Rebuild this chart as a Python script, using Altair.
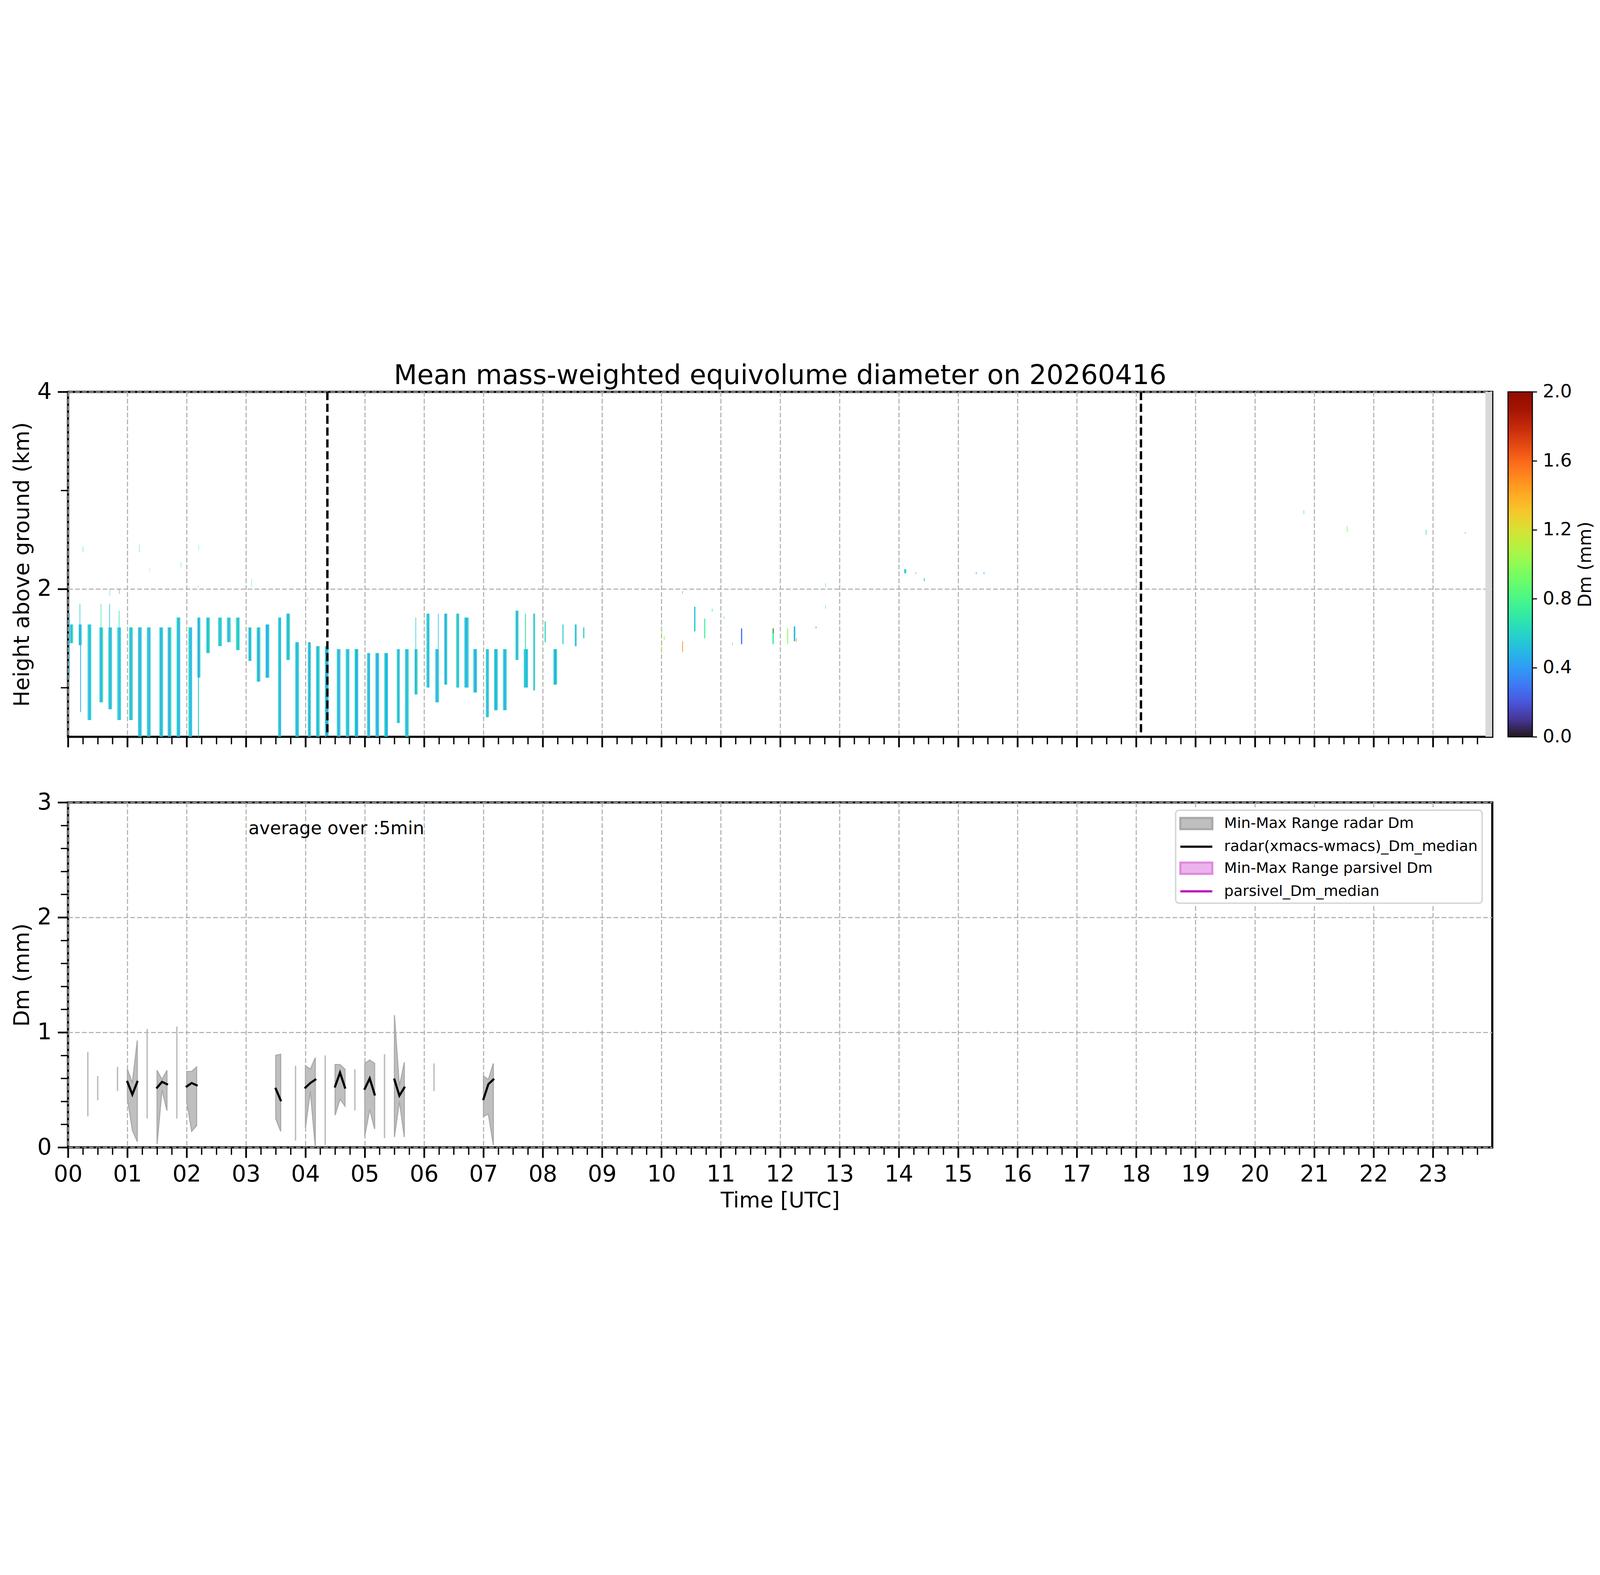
import altair as alt
import pandas as pd

FONT = "DejaVu Sans"

# ---------------- top panel: Dm time-height curtain ----------------
stripe_start = [0.03, 0.18, 0.33, 0.53, 0.68, 0.83, 1.03, 1.18, 1.33, 1.54,
                1.68, 1.83, 2.03, 2.18, 2.33, 2.53, 2.68, 2.83, 3.04, 3.18,
                3.33, 3.54, 3.68, 3.83, 4.04, 4.18, 4.33, 4.53, 4.68, 4.83,
                5.04, 5.18, 5.33, 5.54, 5.68, 5.84, 6.04, 6.19, 6.34, 6.54,
                6.68, 6.83, 7.04, 7.18, 7.33, 7.54, 7.68, 7.84, 8.03, 8.18,
                8.33, 8.54, 8.68]
stripe_end = [0.085, 0.23, 0.39, 0.59, 0.74, 0.89, 1.09, 1.24, 1.39, 1.60,
              1.74, 1.89, 2.09, 2.23, 2.39, 2.59, 2.74, 2.89, 3.09, 3.24,
              3.39, 3.59, 3.74, 3.89, 4.09, 4.24, 4.39, 4.59, 4.74, 4.89,
              5.09, 5.24, 5.39, 5.59, 5.74, 5.89, 6.09, 6.25, 6.39, 6.59,
              6.75, 6.89, 7.09, 7.24, 7.39, 7.59, 7.75, 7.87, 8.05, 8.24,
              8.35, 8.57, 8.70]
stripe_top = [1.64, 1.64, 1.64, 1.61, 1.61, 1.61, 1.61, 1.61, 1.61, 1.61,
              1.61, 1.71, 1.61, 1.71, 1.71, 1.71, 1.71, 1.71, 1.61, 1.61,
              1.64, 1.71, 1.75, 1.46, 1.46, 1.42, 1.42, 1.39, 1.39, 1.39,
              1.35, 1.35, 1.35, 1.39, 1.39, 1.39, 1.75, 1.39, 1.75, 1.75,
              1.71, 1.39, 1.39, 1.39, 1.39, 1.78, 1.39, 1.75, 1.67, 1.39,
              1.64, 1.64, 1.61]
stripe_base = [1.45, 1.43, 0.67, 0.85, 0.78, 0.67, 0.67, 0.50, 0.50, 0.50,
               0.50, 0.50, 0.50, 1.10, 1.35, 1.42, 1.46, 1.38, 1.27, 1.06,
               1.10, 0.50, 1.28, 0.50, 0.50, 0.50, 0.50, 0.50, 0.50, 0.50,
               0.50, 0.50, 0.50, 0.64, 0.50, 0.93, 1.00, 0.85, 1.03, 1.00,
               1.00, 0.95, 0.70, 0.77, 0.77, 1.28, 1.00, 0.97, 1.46, 1.03,
               1.44, 1.42, 1.50]
dm_left = [0.62, 0.55, 0.64, 0.58, 0.60, 0.66, 0.62, 0.57, 0.63, 0.60,
           0.58, 0.62, 0.61, 0.55, 0.60, 0.62, 0.58, 0.70, 0.56, 0.60,
           0.52, 0.62, 0.60, 0.58, 0.62, 0.60, 0.56, 0.61, 0.64, 0.60,
           0.58, 0.62, 0.60, 0.66, 0.60, 0.58, 0.62, 0.57, 0.60, 0.70,
           0.55, 0.62, 0.64, 0.60, 0.62, 0.68, 0.60, 0.58, 0.75, 0.62,
           0.60, 0.58, 0.62]
dm_mid = [0.41, 0.36, 0.46, 0.43, 0.40, 0.48, 0.44, 0.41, 0.46, 0.42,
          0.40, 0.44, 0.46, 0.38, 0.41, 0.46, 0.44, 0.48, 0.40, 0.36,
          0.42, 0.46, 0.38, 0.46, 0.44, 0.40, 0.42, 0.38, 0.46, 0.42,
          0.44, 0.40, 0.46, 0.42, 0.44, 0.38, 0.46, 0.40, 0.36, 0.44,
          0.42, 0.40, 0.46, 0.44, 0.42, 0.38, 0.46, 0.42, 0.51, 0.40,
          0.46, 0.41, 0.44]
dm_right = [0.67, 0.59, 0.55, 0.69, 0.59, 0.53, 0.65, 0.57, 0.53, 0.61,
            0.63, 0.55, 0.53, 0.63, 0.69, 0.57, 0.63, 0.57, 0.61, 0.65,
            0.57, 0.53, 0.67, 0.59, 0.55, 0.63, 0.57, 0.61, 0.55, 0.59,
            0.57, 0.55, 0.53, 0.59, 0.63, 0.67, 0.55, 0.61, 0.59, 0.57,
            0.63, 0.57, 0.53, 0.59, 0.57, 0.61, 0.55, 0.67, 0.57, 0.63,
            0.59, 0.57, 0.55]

# thin filaments attached to the main curtain
fil_start = [0.015, 0.195, 0.205, 0.55, 0.695, 0.855, 2.19, 5.855, 6.235, 7.70]
fil_end = [0.025, 0.205, 0.218, 0.56, 0.705, 0.865, 2.205, 5.865, 6.245, 7.715]
fil_top = [1.75, 1.85, 1.43, 1.85, 1.85, 1.78, 1.10, 1.71, 1.75, 1.75]
fil_base = [1.10, 1.64, 0.75, 1.61, 1.61, 1.61, 0.50, 1.39, 1.39, 1.39]
fil_dm = [0.50, 0.55, 0.45, 0.70, 0.50, 0.65, 0.55, 0.60, 0.50, 0.70]

# isolated echoes
echo_start = [0.25, 1.20, 1.37, 1.90, 2.20, 2.19, 3.09, 4.04, 0.70, 0.86,
              10.00, 10.00, 10.04, 10.35, 10.35, 10.55, 10.72, 10.85, 11.05, 11.19,
              11.34, 11.87, 12.12, 12.23, 12.60, 12.76, 12.76, 14.09, 14.28, 14.42,
              15.30, 15.43, 20.82, 21.55, 22.88, 23.54, 11.88, 12.27]
echo_end = [0.256, 1.206, 1.376, 1.906, 2.206, 2.196, 3.096, 4.046, 0.706, 0.866,
            10.01, 10.01, 10.052, 10.36, 10.362, 10.572, 10.738, 10.86, 11.06, 11.20,
            11.36, 11.893, 12.135, 12.255, 12.61, 12.77, 12.77, 14.125, 14.29, 14.435,
            15.31, 15.44, 20.83, 21.56, 22.89, 23.55, 11.89, 12.28]
echo_top = [2.43, 2.45, 2.22, 2.27, 2.45, 2.04, 2.10, 1.91, 2.00, 2.00,
            1.61, 1.42, 1.52, 1.98, 1.47, 1.82, 1.70, 1.80, 1.72, 1.46,
            1.60, 1.60, 1.60, 1.62, 1.62, 2.06, 1.83, 2.20, 2.17, 2.11,
            2.17, 2.17, 2.80, 2.64, 2.60, 2.58, 1.60, 1.50]
echo_base = [2.37, 2.37, 2.18, 2.22, 2.39, 2.01, 2.02, 1.88, 1.93, 1.95,
             1.53, 1.35, 1.48, 1.95, 1.36, 1.57, 1.50, 1.77, 1.70, 1.43,
             1.44, 1.44, 1.44, 1.47, 1.60, 2.02, 1.80, 2.16, 2.15, 2.08,
             2.15, 2.15, 2.76, 2.58, 2.55, 2.56, 1.55, 1.46]
echo_dm = [0.60, 0.65, 0.90, 0.70, 0.90, 0.85, 0.75, 0.70, 0.60, 0.35,
           1.00, 1.10, 1.00, 0.70, 1.50, 0.55, 0.75, 0.70, 0.70, 0.90,
           0.30, 0.75, 1.00, 0.50, 0.40, 0.90, 0.80, 0.60, 0.70, 0.65,
           0.40, 0.40, 0.80, 0.90, 0.60, 0.80, 1.80, 1.45]

missing_start = [23.885]
missing_end = [24.0]
marker_hours = [4.37, 18.08]
cbar_ticks = [0, 0.4, 0.8, 1.2, 1.6, 2.0]

# ---------------- bottom panel: 5-min Dm statistics ----------------
range_group = [1, 1, 1, 2, 2, 2, 3, 3, 3, 4, 4, 5, 5, 5, 6, 6, 6, 7, 7, 7, 8, 8, 8, 9, 9, 9]
range_time = [1.0, 1.0833, 1.1667, 1.5, 1.5833, 1.6667, 2.0, 2.0833, 2.1667,
              3.5, 3.5833, 4.0, 4.0833, 4.1667, 4.5, 4.5833, 4.6667,
              5.0, 5.0833, 5.1667, 5.5, 5.5833, 5.6667, 7.0, 7.0833, 7.1667]
range_min = [0.43, 0.15, 0.05, 0.03, 0.50, 0.32, 0.40, 0.14, 0.19,
             0.25, 0.14, 0.17, 0.49, 0.00, 0.28, 0.42, 0.36,
             0.10, 0.33, 0.16, 0.09, 0.40, 0.09, 0.27, 0.29, 0.02]
range_max = [0.68, 0.56, 0.93, 0.67, 0.59, 0.67, 0.66, 0.66, 0.70,
             0.80, 0.81, 0.71, 0.68, 0.78, 0.72, 0.72, 0.68,
             0.73, 0.76, 0.73, 1.15, 0.53, 0.74, 0.62, 0.59, 0.73]
radar_median = [0.57, 0.46, 0.57, 0.52, 0.57, 0.55, 0.53, 0.56, 0.54,
                0.51, 0.41, 0.52, 0.56, 0.59, 0.53, 0.65, 0.52,
                0.51, 0.60, 0.46, 0.59, 0.45, 0.52, 0.42, 0.55, 0.59]

single_time = [0.3333, 0.5, 0.8333, 1.3333, 1.8333, 3.8333, 4.3333, 4.8333, 5.3333, 6.1667]
single_min = [0.27, 0.41, 0.49, 0.25, 0.25, 0.06, 0.02, 0.32, 0.08, 0.49]
single_max = [0.83, 0.62, 0.70, 1.03, 1.05, 0.71, 0.80, 0.68, 0.81, 0.73]

note_time = [3.04]
note_dm = [2.724]
note_text = ["average over :5min"]

legend_names = ["Min-Max Range radar Dm", "radar(xmacs-wmacs)_Dm_median",
                "Min-Max Range parsivel Dm", "parsivel_Dm_median"]
legend_fill = ["#bfbfbf", "#000000", "#ecb4ec", "#bf00bf"]
legend_stroke = ["#a9a9a9", "#000000", "#e08ae0", "#bf00bf"]
RECT = "M-2,-0.7L2,-0.7L2,0.7L-2,0.7Z"
LINE = "M-2,0L2,0"
legend_shapes = [RECT, LINE, RECT, LINE]

# ---------------- build tables ----------------
rows = []
for i in range(len(stripe_start)):
    t0, t1 = stripe_start[i], stripe_end[i]
    w = (t1 - t0) / 3.0
    for k, dm in enumerate((dm_left[i], dm_mid[i], dm_right[i])):
        rows.append({"t0": t0 + k * w, "t1": t0 + (k + 1) * w,
                     "h0": stripe_base[i], "h1": stripe_top[i], "dm": dm})
stripes = pd.DataFrame(rows)
filaments = pd.DataFrame({"t0": fil_start, "t1": fil_end, "h0": fil_base,
                          "h1": fil_top, "dm": fil_dm})
echoes = pd.DataFrame({"t0": echo_start, "t1": echo_end, "h0": echo_base,
                       "h1": echo_top, "dm": echo_dm})
band_df = pd.DataFrame({"t0": missing_start, "t1": missing_end})
marker_df = pd.DataFrame({"t": marker_hours})
ranges = pd.DataFrame({"g": range_group, "t": range_time, "lo": range_min,
                       "hi": range_max, "med": radar_median})
singles = pd.DataFrame({"t": single_time, "lo": single_min, "hi": single_max})
notes = pd.DataFrame({"t": note_time, "dm": note_dm, "label": note_text})
legend_df = pd.DataFrame({"series": legend_names})

W, H = 6603, 1599
KM0, KM1 = 0.5, 4.0
DM0, DM1 = 0.0, 2.0
x_scale = alt.Scale(domain=[0, 24], nice=False, zero=False)
y_top_scale = alt.Scale(domain=[KM0, KM1], nice=False, zero=False)
y_bot_scale = alt.Scale(domain=[0, 3], nice=False, zero=False)
# tiny margin keeps the end labels of the colour bar centred on their positions
dm_scale = alt.Scale(scheme="turbo", domain=[DM0 - 0.0005, DM1 + 0.0005], nice=False, zero=False)
# colour-bar tick marks: the bar spans the same height as the panel
cbar_tick_pos = [KM0 + (d - DM0) * (KM1 - KM0) / (DM1 - DM0) for d in cbar_ticks]

major_hours = list(range(24))
minor_hours = [i / 4 for i in range(97) if i % 4]
minor_dm = [i / 5 for i in range(1, 15) if i % 5]

TICK_MAJ = dict(tickSize=48, tickWidth=8, tickColor="black")
TICK_MIN = dict(tickSize=34, tickWidth=6, tickColor="black", labels=False,
                grid=False, domain=False, title=None)


def x_major(labels):
    kw = dict(values=major_hours, grid=True, domain=False, labelFlush=False,
              labelOverlap=False, **TICK_MAJ)
    if labels:
        kw.update(labels=True, labelFontSize=105, labelPadding=26,
                  labelExpr="datum.value < 10 ? '0' + datum.value : '' + datum.value",
                  title="Time [UTC]", titleFontSize=100, titlePadding=20)
    else:
        kw.update(labels=False, title=None)
    return alt.Axis(**kw)


def y_major(values, title):
    return alt.Axis(values=values, format="d", grid=True, domain=False,
                    labelFontSize=105, labelPadding=28, labelOverlap=False,
                    title=title, titleFontSize=100, titlePadding=2,
                    titleBaseline="alphabetic",
                    minExtent=180, maxExtent=180, **TICK_MAJ)


cbar_legend = alt.Legend(
    title=None, orient="none", legendX=6676, legendY=0, padding=0,
    direction="vertical", gradientLength=H, gradientThickness=113,
    gradientStrokeColor="black", gradientStrokeWidth=5,
    values=cbar_ticks, format=".1f",
    labelFontSize=85, labelFont=FONT, labelOffset=48, labelOverlap=False,
    labelBaseline="middle",
)

top_stripes = alt.Chart(stripes).mark_rect(clip=True).encode(
    x=alt.X("t0:Q", scale=x_scale, axis=x_major(False)),
    x2="t1:Q",
    y=alt.Y("h0:Q", scale=y_top_scale, axis=y_major([2, 4], "Height above ground (km)")),
    y2="h1:Q",
    color=alt.Color("dm:Q", scale=dm_scale, legend=cbar_legend),
)
top_filaments = alt.Chart(filaments).mark_rect(clip=True).encode(
    x=alt.X("t0:Q", scale=x_scale, axis=alt.Axis(values=minor_hours, orient="bottom", **TICK_MIN)),
    x2="t1:Q",
    y=alt.Y("h0:Q", scale=y_top_scale, axis=alt.Axis(values=[1, 3], orient="left", **TICK_MIN)),
    y2="h1:Q",
    color=alt.Color("dm:Q", scale=dm_scale, legend=cbar_legend),
)
top_echoes = alt.Chart(echoes).mark_rect(clip=True).encode(
    x=alt.X("t0:Q", scale=x_scale, axis=None),
    x2="t1:Q",
    y=alt.Y("h0:Q", scale=y_top_scale,
            axis=alt.Axis(orient="right", offset=186, values=cbar_tick_pos,
                          labels=False, ticks=True, tickSize=21, tickWidth=5,
                          tickColor="black", grid=False, domain=False,
                          title="Dm (mm)", titleFontSize=83, titleAngle=270,
                          titleBaseline="top", titleAlign="center", titlePadding=206,
                          minExtent=0, maxExtent=0)),
    y2="h1:Q",
    color=alt.Color("dm:Q", scale=dm_scale, legend=cbar_legend),
)
band = alt.Chart(band_df).mark_rect(color="#d9d9d9", clip=True).encode(
    x=alt.X("t0:Q", scale=x_scale, axis=None), x2="t1:Q")
markers = alt.Chart(marker_df).mark_rule(color="black", strokeWidth=11, strokeDash=[38, 17]).encode(
    x=alt.X("t:Q", scale=x_scale, axis=None))

top = alt.layer(top_stripes, top_filaments, top_echoes, band, markers).resolve_axis(
    x="independent", y="independent"
).properties(
    width=W, height=H,
    title=alt.TitleParams("Mean mass-weighted equivolume diameter on 20260416",
                          fontSize=125, font=FONT, fontWeight="normal", color="black",
                          anchor="middle", frame="group", offset=-42),
)

area = alt.Chart(ranges).mark_area(color="#bfbfbf", stroke="#a9a9a9", strokeWidth=5, clip=True).encode(
    x=alt.X("t:Q", scale=x_scale, axis=x_major(True)),
    y=alt.Y("lo:Q", scale=y_bot_scale, axis=y_major([0, 1, 2, 3], "Dm (mm)")),
    y2="hi:Q",
    detail="g:N",
)
single_rules = alt.Chart(singles).mark_rule(color="#bdbdbd", strokeWidth=6.5).encode(
    x=alt.X("t:Q", scale=x_scale, axis=None),
    y=alt.Y("lo:Q", scale=y_bot_scale, axis=None),
    y2="hi:Q",
)
median_line = alt.Chart(ranges).mark_line(color="black", strokeWidth=10, strokeCap="square").encode(
    x=alt.X("t:Q", scale=x_scale, axis=alt.Axis(values=minor_hours, orient="bottom", **TICK_MIN)),
    y=alt.Y("med:Q", scale=y_bot_scale, axis=alt.Axis(values=minor_dm, orient="left", **TICK_MIN)),
    detail="g:N",
)
note = alt.Chart(notes).mark_text(align="left", baseline="alphabetic", fontSize=83, font=FONT,
                                  color="black").encode(
    x=alt.X("t:Q", scale=x_scale, axis=None),
    y=alt.Y("dm:Q", scale=y_bot_scale, axis=None),
    text="label:N",
)
series_legend = alt.Legend(
    title=None, orient="none", legendX=5135, legendY=36, fillColor="white",
    strokeColor="#d6d6d6", cornerRadius=15, padding=20,
    labelFontSize=69, labelFont=FONT, labelLimit=3000, labelBaseline="middle",
    symbolSize=5476, symbolStrokeWidth=10, symbolOffset=34, labelOffset=87,
    rowPadding=19,
)
legend_layer = alt.Chart(legend_df).transform_filter("false").mark_point(filled=True, opacity=1).encode(
    fill=alt.Fill("series:N", scale=alt.Scale(domain=legend_names, range=legend_fill), legend=series_legend),
    stroke=alt.Stroke("series:N", scale=alt.Scale(domain=legend_names, range=legend_stroke), legend=series_legend),
    shape=alt.Shape("series:N", scale=alt.Scale(domain=legend_names, range=legend_shapes), legend=series_legend),
)

bottom = alt.layer(area, single_rules, median_line, note, legend_layer).resolve_axis(
    x="independent", y="independent"
).properties(width=W, height=H)

chart = alt.vconcat(top, bottom, spacing=190).resolve_scale(
    color="independent", fill="independent", stroke="independent", shape="independent"
).configure_view(
    stroke="black", strokeWidth=10
).configure_axis(
    labelFont=FONT, titleFont=FONT, labelColor="black", titleColor="black",
    titleFontWeight="normal", gridColor="#b0b0b0", gridDash=[22, 10], gridWidth=5,
).configure_legend(strokeWidth=7).properties(
    background="white", padding={"left": 34, "top": 42, "right": 5, "bottom": 5}
)

chart.save("out.html", embed_options={"renderer": "svg", "actions": False})
